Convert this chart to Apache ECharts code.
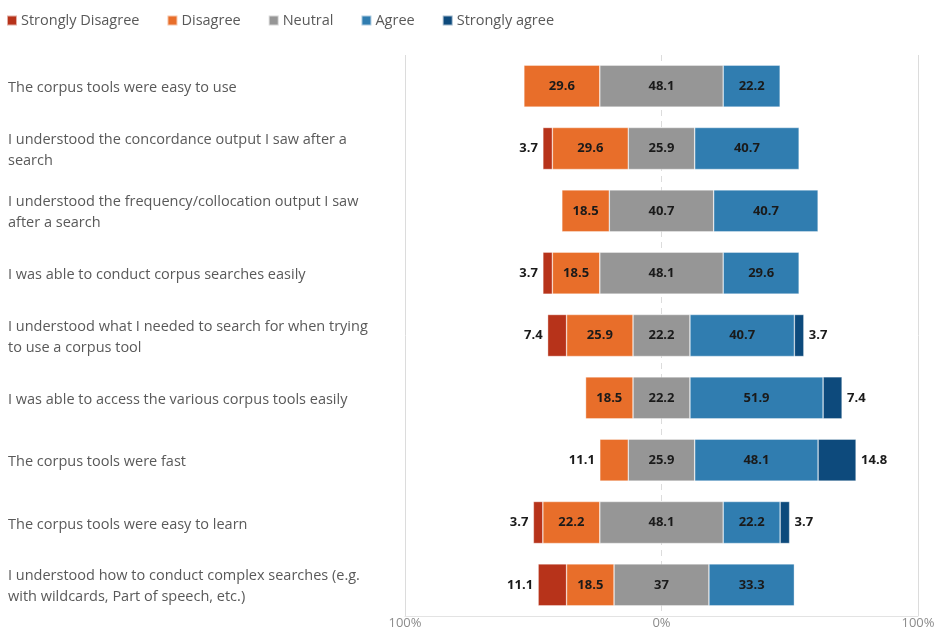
<!DOCTYPE html>
<html>
<head>
<meta charset="utf-8">
<title>Corpus tools survey</title>
<script src="https://cdn.jsdelivr.net/npm/echarts@6/dist/echarts.min.js"></script>
<style>
  html, body { margin: 0; padding: 0; background: #ffffff; }
  #chart { width: 941px; height: 630px; }
</style>
</head>
<body>
<div id="chart"></div>
<script>
// Survey statements (top to bottom)
const statements = [
  'The corpus tools were easy to use',
  'I understood the concordance output I saw after a\nsearch',
  'I understood the frequency/collocation output I saw\nafter a search',
  'I was able to conduct corpus searches easily',
  'I understood what I needed to search for when trying\nto use a corpus tool',
  'I was able to access the various corpus tools easily',
  'The corpus tools were fast',
  'The corpus tools were easy to learn',
  'I understood how to conduct complex searches (e.g.\nwith wildcards, Part of speech, etc.)'
];

// Response shares in percent, one value per statement
const stronglyDisagree = [0, 3.7, 0, 3.7, 7.4, 0, 0, 3.7, 11.1];
const disagree         = [29.6, 29.6, 18.5, 18.5, 25.9, 18.5, 11.1, 22.2, 18.5];
const neutral          = [48.1, 25.9, 40.7, 48.1, 22.2, 22.2, 25.9, 48.1, 37];
const agree            = [22.2, 40.7, 40.7, 29.6, 40.7, 51.9, 48.1, 22.2, 33.3];
const stronglyAgree    = [0, 0, 0, 0, 3.7, 7.4, 14.8, 3.7, 0];

const axisTicks = [-100, 0, 100];

const colors = {
  sd: '#B7331A',
  d: '#E86E2A',
  n: '#969696',
  a: '#307DB0',
  sa: '#0D4A7C'
};

// Hidden lead-in so that the neutral block is centred on 0
const offset = statements.map((_, i) =>
  -(stronglyDisagree[i] + disagree[i] + neutral[i] / 2));

const labelFont = {
  color: '#1a1a1a',
  fontWeight: 'bold',
  fontSize: 13,
  fontFamily: '"Open Sans", sans-serif'
};

// Small segments get their number outside the bar
function items(values, outsidePos, threshold) {
  return values.map(v => {
    if (v === 0) {
      return { value: 0, itemStyle: { borderWidth: 0 }, label: { show: false } };
    }
    if (v < threshold) {
      return { value: v, label: { position: outsidePos, distance: 5 } };
    }
    return v;
  });
}

function segment(name, values, color, outsidePos, threshold) {
  return {
    name: name,
    type: 'bar',
    stack: 'likert',
    stackStrategy: 'all',
    barWidth: 42,
    itemStyle: { color: color, borderColor: 'rgba(255,255,255,0.6)', borderWidth: 0.6 },
    label: Object.assign({ show: true, position: 'inside', formatter: p => p.value }, labelFont),
    emphasis: { disabled: true },
    data: items(values, outsidePos, threshold)
  };
}

const chart = echarts.init(document.getElementById('chart'), null, { renderer: 'canvas' });

chart.setOption({
  animation: false,
  textStyle: { fontFamily: '"Open Sans", sans-serif' },
  legend: {
    data: ['Strongly Disagree', 'Disagree', 'Neutral', 'Agree', 'Strongly agree'],
    left: 1,
    top: 8,
    icon: 'rect',
    itemWidth: 10,
    itemHeight: 10,
    itemGap: 27,
    textStyle: { color: '#595959', fontSize: 14.5, padding: [0, 0, 0, -1] }
  },
  grid: { left: 405, right: 23, top: 55, bottom: 14, containLabel: false },
  xAxis: {
    type: 'value',
    min: axisTicks[0],
    max: axisTicks[2],
    interval: 100,
    axisLine: { show: true, lineStyle: { color: '#e3e3e3', width: 1 } },
    axisTick: { show: false },
    axisLabel: {
      color: '#8c8c8c',
      fontSize: 13,
      margin: 1,
      formatter: v => Math.abs(v) + '%'
    },
    splitLine: {
      show: true,
      lineStyle: { color: ['#dcdcdc', 'rgba(0,0,0,0)', '#dcdcdc'], width: 1 }
    }
  },
  yAxis: {
    type: 'category',
    inverse: true,
    data: statements,
    axisLine: { show: false },
    axisTick: { show: false },
    axisLabel: {
      align: 'left',
      margin: 397,
      color: '#595959',
      fontSize: 14.5,
      rich: {},
      formatter: v => v.split('\n').map(s => '{t|' + s + '}').join('\n'),
      lineHeight: 21
    }
  },
  series: [
    {
      name: 'offset',
      type: 'bar',
      stack: 'likert',
      stackStrategy: 'all',
      barWidth: 42,
      silent: true,
      itemStyle: { color: 'rgba(0,0,0,0)' },
      label: { show: false },
      data: offset,
      markLine: {
        silent: true,
        symbol: 'none',
        z: 1,
        label: { show: false },
        lineStyle: { color: '#dcdcdc', type: [6, 5], width: 1 },
        data: [{ xAxis: 0 }]
      }
    },
    segment('Strongly Disagree', stronglyDisagree, colors.sd, 'left', 1000),
    segment('Disagree', disagree, colors.d, 'left', 15),
    segment('Neutral', neutral, colors.n, 'left', 0),
    segment('Agree', agree, colors.a, 'right', 0),
    segment('Strongly agree', stronglyAgree, colors.sa, 'right', 1000)
  ]
});

// Nudge the statement text a little below the bar centre line
chart.setOption({
  yAxis: {
    axisLabel: {
      rich: {
        t: { fontSize: 14.5, color: '#595959', lineHeight: 21, padding: [4, 0, 0, 0] }
      }
    }
  }
});
</script>
</body>
</html>
